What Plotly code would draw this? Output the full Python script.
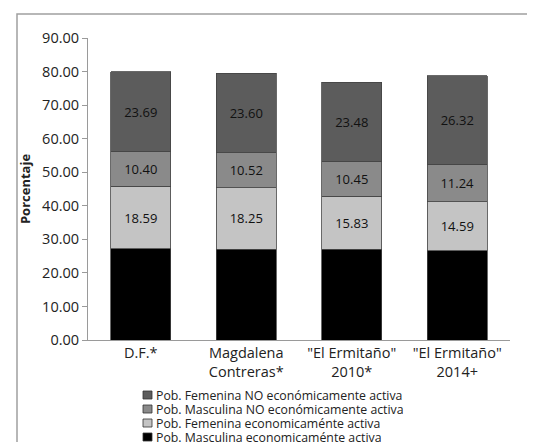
import plotly.graph_objects as go

categories = ["D.F.*", "Magdalena<br>Contreras*", "\"El Ermitaño\"<br>2010*", "\"El Ermitaño\"<br>2014+"]
masc_activa = [27.2, 27.1, 27.0, 26.6]
fem_activa = [18.59, 18.25, 15.83, 14.59]
masc_no_activa = [10.40, 10.52, 10.45, 11.24]
fem_no_activa = [23.69, 23.60, 23.48, 26.32]

series = [
    ("Pob. Masculina economicaménte activa", masc_activa, "#000000", False),
    ("Pob. Femenina economicaménte activa", fem_activa, "#c4c4c4", True),
    ("Pob. Masculina NO económicamente activa", masc_no_activa, "#8a8a8a", True),
    ("Pob. Femenina NO económicamente activa", fem_no_activa, "#5c5c5c", True),
]

font_family = "Open Sans, Liberation Sans, sans-serif"

# The page puts the figure 8px in from the window's top-left corner.
OFF = 8
W, H = 535, 442
# plot area in window pixels: x 88..510, y 38..340
ML = 88 - OFF
MT = 38 - OFF
MR = W - (510 - OFF)
MB = H - (340 - OFF)
PW, PH = W - ML - MR, H - MT - MB


def px_x(x):
    return (x - OFF - ML) / PW


def px_y(y):
    return (H - MB - (y - OFF)) / PH


fig = go.Figure()
for name, vals, color, show_text in series:
    fig.add_trace(go.Bar(
        x=categories, y=vals, name=name,
        marker=dict(color=color, line=dict(color="#444444", width=0.8)),
        text=[f"{v:.2f}" for v in vals] if show_text else None,
        textposition="inside", insidetextanchor="middle",
        textfont=dict(color="#111111", size=13, family=font_family),
        hoverinfo="skip", showlegend=False,
    ))

# legend (top entry = last series), drawn compactly like the original
legend_rows_y = [395, 409, 423, 437]
annotations = []
shapes = [dict(
    type="rect", xref="paper", yref="paper",
    x0=px_x(17), x1=px_x(570), y0=px_y(480), y1=px_y(14),
    line=dict(color="#a0a0a0", width=1.5), fillcolor="rgba(0,0,0,0)",
    layer="below",
)]
for (name, vals, color, _), yy in zip(reversed(series), legend_rows_y):
    shapes.append(dict(
        type="rect", xref="paper", yref="paper",
        x0=px_x(143), x1=px_x(152), y0=px_y(yy + 4), y1=px_y(yy - 4),
        line=dict(color="#333333", width=0.8), fillcolor=color,
    ))
    annotations.append(dict(
        text=name, xref="paper", yref="paper",
        x=px_x(154), y=px_y(yy), xanchor="left", yanchor="middle",
        height=13, valign="middle",
        showarrow=False, font=dict(size=12.3, color="#222222"),
    ))

fig.update_layout(
    barmode="stack",
    bargap=0.43,
    width=W, height=H,
    margin=dict(l=ML, r=MR, t=MT, b=MB, autoexpand=False),
    paper_bgcolor="white", plot_bgcolor="white",
    font=dict(family=font_family, size=13, color="#222222"),
    showlegend=False,
    yaxis=dict(
        range=[0, 90], dtick=10, tickformat=".2f",
        showgrid=False, zeroline=False,
        showline=True, linecolor="#9a9a9a", linewidth=1,
        ticks="outside", ticklen=5, tickcolor="#9a9a9a",
        title=dict(text="<b>Porcentaje</b>", font=dict(size=13), standoff=8),
        tickfont=dict(size=14.5),
    ),
    xaxis=dict(
        showgrid=False, showline=True, linecolor="#9a9a9a", linewidth=1,
        ticks="", tickfont=dict(size=14.5),
    ),
    shapes=shapes,
    annotations=annotations,
)

fig.write_html("out.html")
